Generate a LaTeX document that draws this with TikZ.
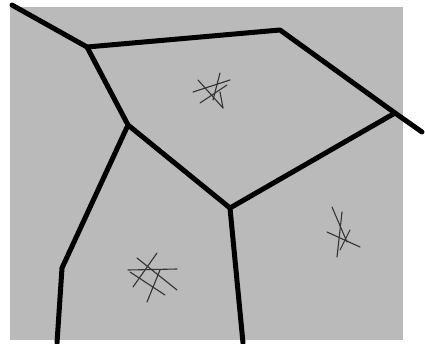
\documentclass[tikz,border=0pt]{standalone}
\begin{document}
\begin{tikzpicture}[x=1pt,y=-1pt,
  edge/.style={line width=5pt,line join=round,line cap=round,black},
  scrib/.style={line width=1.1pt,black!80,line cap=round}]
\useasboundingbox (0,0) rectangle (425,343);
\fill[white] (0,0) rectangle (425,343);
\fill[black!27] (10,7) rectangle (403,340);
\coordinate (P0) at (12,5);
\coordinate (A) at (87,47);
\coordinate (B) at (280,30);
\coordinate (C) at (395,113);
\coordinate (P1) at (422,132);
\coordinate (D) at (128,125);
\coordinate (E) at (230,208);
\coordinate (F) at (62,268);
\coordinate (P2) at (57,343);
\coordinate (P3) at (243,343);
\draw[edge] (P0) -- (A) -- (B) -- (C) -- (P1);
\draw[edge] (A) -- (D) -- (E) -- (C);
\draw[edge] (D) -- (F) -- (P2);
\draw[edge] (E) -- (P3);
% scribbles
\draw[scrib] (193,92) -- (230,80);
\draw[scrib] (198,80) -- (223,108);
\draw[scrib] (220,73) -- (213,100);
\draw[scrib] (200,103) -- (227,85);
\draw[scrib] (220,92) -- (223,108);
\draw[scrib] (137,258) -- (177,290);
\draw[scrib] (157,253) -- (133,287);
\draw[scrib] (128,270) -- (177,269);
\draw[scrib] (160,270) -- (147,302);
\draw[scrib] (130,272) -- (165,295);
\draw[scrib] (332,207) -- (347,242);
\draw[scrib] (342,212) -- (337,257);
\draw[scrib] (327,232) -- (360,247);
\draw[scrib] (350,230) -- (340,250);
\end{tikzpicture}
\end{document}
